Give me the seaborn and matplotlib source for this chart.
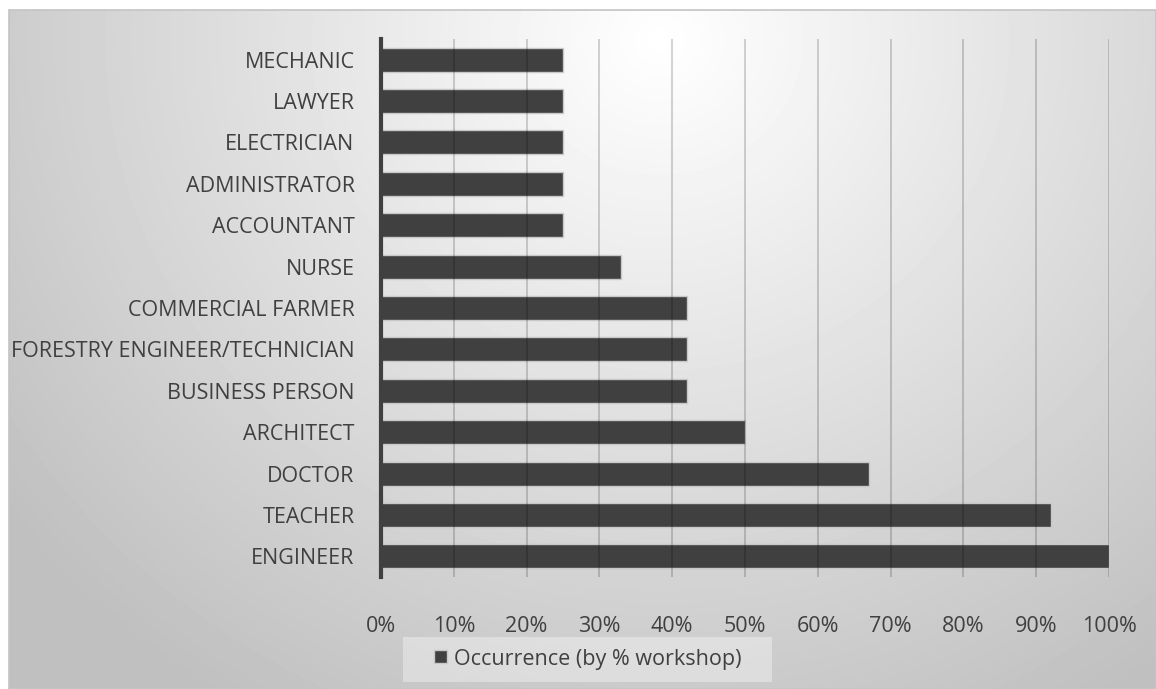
import numpy as np
import pandas as pd
import matplotlib.pyplot as plt
import seaborn as sns
from matplotlib.patches import Rectangle
from matplotlib.ticker import PercentFormatter

# Occupations and occurrence (% of workshops), top to bottom as drawn
occupations = [
    "MECHANIC", "LAWYER", "ELECTRICIAN", "ADMINISTRATOR", "ACCOUNTANT",
    "NURSE", "COMMERCIAL FARMER", "FORESTRY ENGINEER/TECHNICIAN",
    "BUSINESS PERSON", "ARCHITECT", "DOCTOR", "TEACHER", "ENGINEER",
]
occurrence = [25, 25, 25, 25, 25, 33, 42, 42, 42, 50, 67, 92, 100]
series_name = "Occurrence (by % workshop)"
x_ticks = list(range(0, 101, 10))

df = pd.DataFrame({"occupation": occupations, "occurrence": occurrence})

sns.set_style("white")
plt.rcParams["font.family"] = ["Open Sans", "DejaVu Sans"]
text_color = "#404040"
fsize = 15.5

W, H = 1156, 689
fig = plt.figure(figsize=(W / 100, H / 100), dpi=100)
fig.patch.set_facecolor("white")

# radial grey gradient behind the chart area
bg = fig.add_axes([9 / W, 0, 1 - 9 / W, 1 - 10 / H], zorder=0)
yy, xx = np.mgrid[10:H, 9:W]
d = np.sqrt(((xx - 660) / 760.0) ** 2 + ((yy - 40) / 720.0) ** 2)
shade = np.clip(1.0 - 0.23 * d, 0.75, 1.0)
bg.imshow(shade, cmap="gray", vmin=0, vmax=1, aspect="auto",
          interpolation="bilinear")
bg.set_axis_off()
fig.patches.append(Rectangle((9 / W, 0), 1 - 9 / W, 1 - 10 / H,
                             transform=fig.transFigure, fill=False,
                             edgecolor="#c4c4c4", linewidth=1.2, zorder=1))

ax = fig.add_axes([381 / W, 1 - 577 / H, (1109 - 381) / W, (577 - 39) / H],
                  zorder=2)
ax.patch.set_alpha(0)

sns.barplot(data=df, x="occurrence", y="occupation", orient="h", ax=ax,
            color="#404040", saturation=1, width=0.58,
            edgecolor="#c8c8c8", linewidth=1.0, label=series_name)
if ax.get_legend() is not None:
    ax.get_legend().remove()

ax.set_xlim(0, 100)
ax.set_ylim(len(occupations) - 0.5, -0.5)
ax.set_xticks(x_ticks)
ax.xaxis.set_major_formatter(PercentFormatter(decimals=0))
for x in x_ticks[1:]:
    ax.axvline(x, color="black", alpha=0.22, linewidth=1.1, zorder=5)

for s in ["top", "right", "bottom"]:
    ax.spines[s].set_visible(False)
ax.spines["left"].set_color("#404040")
ax.spines["left"].set_linewidth(3)
ax.spines["left"].set_zorder(6)

ax.set_xlabel("")
ax.set_ylabel("")
ax.tick_params(axis="both", length=0, colors=text_color, labelsize=fsize)
ax.tick_params(axis="y", pad=19)
ax.tick_params(axis="x", pad=28)

# legend box behind the legend entry
fig.patches.append(Rectangle((403 / W, 1 - 682 / H), (772 - 403) / W, 45 / H,
                             transform=fig.transFigure, facecolor="white",
                             alpha=0.35, edgecolor="none", zorder=3))
handles, labels = ax.get_legend_handles_labels()
leg = fig.legend(handles, labels, loc="center",
                 bbox_to_anchor=(588 / W, 1 - 659 / H),
                 frameon=False, fontsize=fsize, handlelength=0.56,
                 handleheight=0.56, handletextpad=0.35, borderpad=0,
                 borderaxespad=0, labelcolor=text_color)

fig.savefig("out.png", dpi=100)
plt.close(fig)
